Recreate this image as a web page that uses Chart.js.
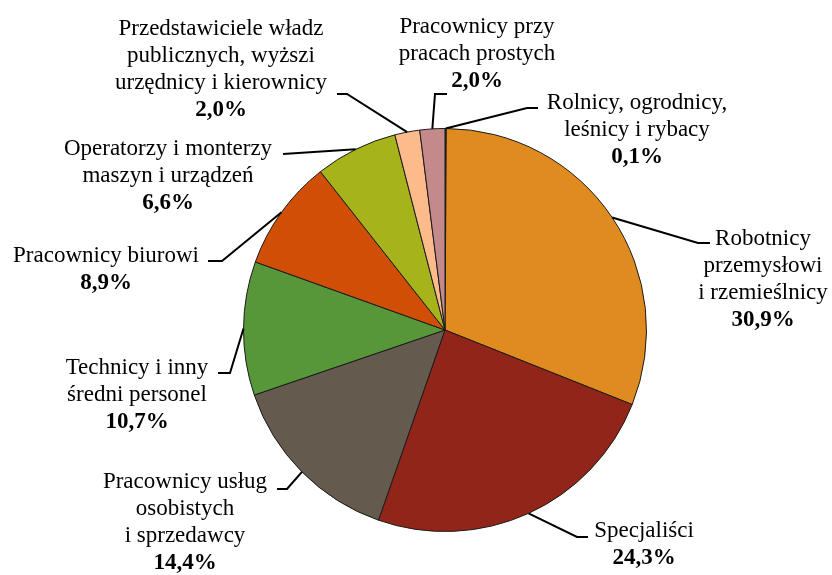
<!DOCTYPE html>
<html>
<head>
<meta charset="utf-8">
<script src="https://cdn.jsdelivr.net/npm/chart.js@4"></script>
<style>
  body { margin: 0; background: #fff; font-family: "Liberation Serif", serif; }
  #wrap { width: 832px; height: 575px; }
</style>
</head>
<body>
<div id="wrap"><canvas id="pieChart" width="832" height="575"></canvas></div>
<script>
// data, clockwise from 12 o'clock
const categories = [
    ['Rolnicy, ogrodnicy,', 'leśnicy i rybacy'],
    ['Robotnicy', 'przemysłowi', 'i rzemieślnicy'],
    ['Specjaliści'],
    ['Pracownicy usług', 'osobistych', 'i sprzedawcy'],
    ['Technicy i inny', 'średni personel'],
    ['Pracownicy biurowi'],
    ['Operatorzy i monterzy', 'maszyn i urządzeń'],
    ['Przedstawiciele władz', 'publicznych, wyższi', 'urzędnicy i kierownicy'],
    ['Pracownicy przy', 'pracach prostych']
];
const shares = [0.1, 30.9, 24.3, 14.4, 10.7, 8.9, 6.6, 2.0, 2.0];
const sliceColors = ['#3a3f5c', '#e08b1f', '#922519', '#645a4e', '#58963a', '#d04e05', '#a6b31b', '#fdbb8b', '#c4898a'];

// label placement: text centre x, first baseline, leader elbow and end
const labelPos = [
    { cx: 637, y: 109, elbow: [527, 108], end: [538, 108] },
    { cx: 763, y: 245, elbow: [698, 243], end: [710, 243] },
    { cx: 644, y: 537, elbow: [577, 537], end: [588, 537] },
    { cx: 185, y: 488, elbow: [287, 489], end: [277, 489] },
    { cx: 137, y: 374, elbow: [230, 373], end: [218, 373] },
    { cx: 106, y: 262, elbow: [222, 261], end: [208, 261] },
    { cx: 168, y: 155, elbow: [283, 154], end: [283, 154] },
    { cx: 221, y: 35, elbow: [347, 94], end: [337, 94] },
    { cx: 477, y: 33, elbow: [435, 94], end: [447, 94] }
];
const lineHeight = 27;
const serif = '"Liberation Serif", "Times New Roman", Times, serif';

const leaderLabels = {
    id: 'leaderLabels',
    afterDraw(chart) {
        const ctx = chart.ctx;
        const arcs = chart.getDatasetMeta(0).data;
        ctx.save();
        arcs.forEach((arc, i) => {
            const p = arc.getProps(['x', 'y', 'startAngle', 'endAngle', 'outerRadius'], true);
            const mid = (p.startAngle + p.endAngle) / 2;
            const sx = p.x + Math.cos(mid) * p.outerRadius;
            const sy = p.y + Math.sin(mid) * p.outerRadius;
            const pos = labelPos[i];

            ctx.strokeStyle = '#000';
            ctx.lineWidth = 2;
            ctx.beginPath();
            ctx.moveTo(sx, sy);
            ctx.lineTo(pos.elbow[0], pos.elbow[1]);
            ctx.lineTo(pos.end[0], pos.end[1]);
            ctx.stroke();

            ctx.fillStyle = '#000';
            ctx.textAlign = 'center';
            ctx.textBaseline = 'alphabetic';
            ctx.font = '23px ' + serif;
            const lines = categories[i];
            lines.forEach((txt, k) => {
                ctx.fillText(txt, pos.cx, pos.y + k * lineHeight);
            });
            ctx.font = 'bold 23px ' + serif;
            const pct = shares[i].toFixed(1).replace('.', ',') + '%';
            ctx.fillText(pct, pos.cx, pos.y + lines.length * lineHeight);
        });
        ctx.restore();
    }
};

function initChart() {
    new Chart(document.getElementById('pieChart'), {
        type: 'pie',
        data: {
            labels: categories.map(c => c.join(' ')),
            datasets: [{
                data: shares,
                backgroundColor: sliceColors,
                borderColor: '#1a1a1a',
                borderWidth: 1
            }]
        },
        options: {
            responsive: false,
            animation: false,
            layout: { padding: { top: 128, bottom: 43, left: 243, right: 185 } },
            plugins: {
                legend: { display: false },
                tooltip: { enabled: false }
            }
        },
        plugins: [leaderLabels]
    });
}

Promise.all([
    document.fonts.load('23px "Liberation Serif"'),
    document.fonts.load('bold 23px "Liberation Serif"')
]).then(initChart, initChart);
</script>
</body>
</html>
